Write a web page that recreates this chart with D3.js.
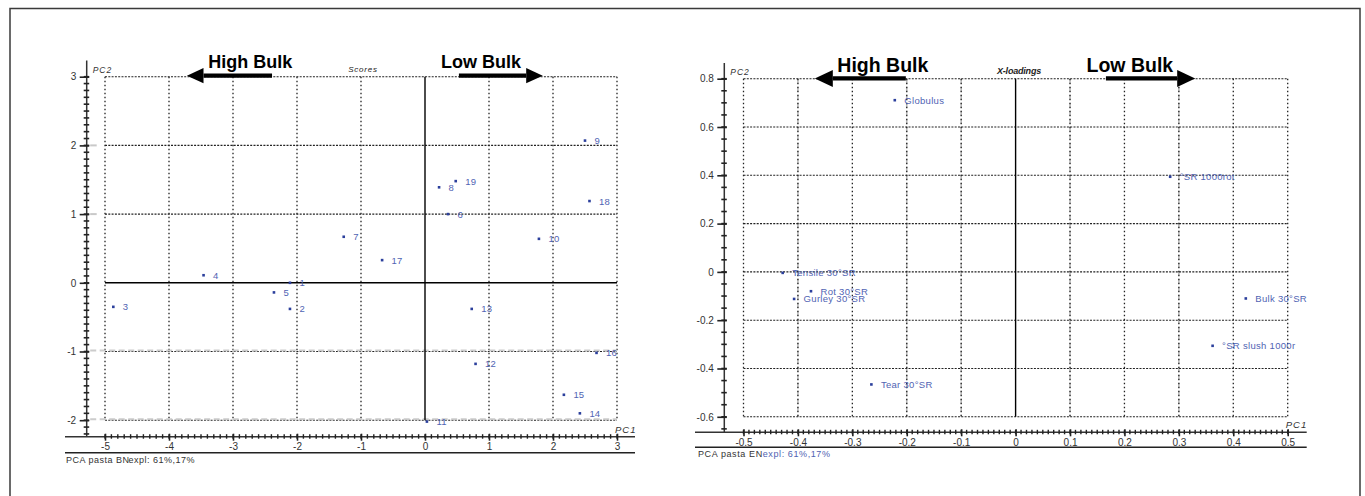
<!DOCTYPE html>
<html>
<head>
<meta charset="utf-8">
<script src="https://cdn.jsdelivr.net/npm/d3@7"></script>
<style>
  html, body { margin: 0; padding: 0; background: #fff; }
  svg { display: block; }
  text { font-family: "Liberation Sans", Arial, sans-serif; }
</style>
</head>
<body>
<svg id="chart" width="1365" height="496"></svg>
<script>
// ---------- DATA ----------
// Scores plot (left)
const scoreLabels = ["1","2","3","4","5","6","7","8","9","10","11","12","13","14","15","16","17","18","19"];
const scorePC1 = [-2.11,-2.11,-4.87,-3.46,-2.36,0.36,-1.27,0.22,2.50,1.78,0.03,0.79,0.73,2.42,2.17,2.68,-0.67,2.57,0.48];
const scorePC2 = [0.00,-0.38,-0.35,0.11,-0.14,1.00,0.67,1.39,2.07,0.64,-2.02,-1.18,-0.38,-1.90,-1.63,-1.02,0.33,1.19,1.48];
const scoreXTicks = [-5,-4,-3,-2,-1,0,1,2,3];
const scoreYTicks = [-2,-1,0,1,2,3];

// X-loadings plot (right)
const loadLabels = ["Globulus","Tensile 30°SR","Rot 30°SR","Gurley 30°SR","Tear 30°SR","°SR 1000rot","Bulk 30°SR","°SR slush 1000r"];
const loadPC1 = [-0.222,-0.428,-0.376,-0.407,-0.265,0.284,0.423,0.362];
const loadPC2 = [0.711,-0.004,-0.080,-0.112,-0.466,0.394,-0.110,-0.306];
const loadXTicks = [-0.5,-0.4,-0.3,-0.2,-0.1,0,0.1,0.2,0.3,0.4,0.5];
const loadYTicks = [-0.6,-0.4,-0.2,0,0.2,0.4,0.6,0.8];

// Annotations (data units on PC1)
const scoreArrowLabels = ["High Bulk","Low Bulk"];
const scoreArrowFrom = [-2.39, 0.53];
const scoreArrowTo = [-3.72, 1.84];
const scoreArrowText = [-2.73, 0.875];
const loadArrowLabels = ["High Bulk","Low Bulk"];
const loadArrowFrom = [-0.2017, 0.166];
const loadArrowTo = [-0.369, 0.33];
const loadArrowText = [-0.244, 0.21];

// ---------- DRAW ----------
const svg = d3.select("#chart");
const fmt = d => d === 0 ? "0" : (Number.isInteger(d) ? String(d) : d.toFixed(1)).replace("\u2212","-");

// outer frame
svg.append("rect").attr("x",10).attr("y",8.5).attr("width",1350).attr("height",500)
  .attr("fill","none").attr("stroke","#3a3a3a").attr("stroke-width",1.5);

function panel(cfg) {
  const g = svg.append("g");
  const x = d3.scaleLinear().domain(cfg.xDom).range([cfg.x0, cfg.x1]);
  const y = d3.scaleLinear().domain(cfg.yDom).range([cfg.yBot, cfg.yTop]);

  // vertical grid
  if (cfg.greyV) cfg.greyV.forEach(v => {
    g.append("line").attr("x1", x(v)).attr("x2", x(v))
      .attr("y1", y(cfg.yDom[1])).attr("y2", y(cfg.yDom[0]))
      .attr("stroke","#bdbdbd").attr("stroke-width",1.6).attr("stroke-dasharray","5,3");
  });
  cfg.xTicks.forEach(v => {
    if (v === 0) return;
    g.append("line").attr("x1", x(v)).attr("x2", x(v))
      .attr("y1", y(cfg.yDom[1])).attr("y2", y(cfg.yDom[0]))
      .attr("stroke","#222").attr("stroke-width",1.3).attr("stroke-dasharray","1.6,2.4");
  });
  // horizontal grid
  cfg.yTicks.forEach(v => {
    if (v === 0 && cfg.solidY0) return;
    g.append("line").attr("x1", x(cfg.xDom[0])).attr("x2", x(cfg.xDom[1]))
      .attr("y1", y(v)).attr("y2", y(v))
      .attr("stroke","#222").attr("stroke-width",1.1).attr("stroke-dasharray","2,1.3");
  });
  // light grey dashed overlays
  if (cfg.greyH) cfg.greyH.forEach(v => {
    g.append("line").attr("x1", cfg.axisX + 3.5).attr("x2", x(cfg.xDom[1]))
      .attr("y1", y(v) - 1).attr("y2", y(v) - 1)
      .attr("stroke","#c4c4c4").attr("stroke-width",2).attr("stroke-dasharray","6,3.5").attr("opacity",0.85);
  });
  if (cfg.greyStub) cfg.greyStub.forEach(v => {
    g.append("line").attr("x1", cfg.axisX + 3.5).attr("x2", cfg.axisX + 10)
      .attr("y1", y(v)).attr("y2", y(v))
      .attr("stroke","#c9c9c9").attr("stroke-width",2);
  });
  // solid zero lines
  g.append("line").attr("x1", x(0)).attr("x2", x(0))
    .attr("y1", y(cfg.yDom[1])).attr("y2", y(cfg.yDom[0]))
    .attr("stroke","#000").attr("stroke-width",1.4);
  if (cfg.solidY0) g.append("line").attr("x1", x(cfg.xDom[0])).attr("x2", x(cfg.xDom[1]))
    .attr("y1", y(0)).attr("y2", y(0)).attr("stroke","#000").attr("stroke-width",1.4);

  // axis lines
  g.append("line").attr("x1", cfg.axisX).attr("x2", cfg.axisX)
    .attr("y1", cfg.axisTop).attr("y2", cfg.axisY).attr("stroke","#333").attr("stroke-width",1.5);
  g.append("line").attr("x1", cfg.lineLeft).attr("x2", cfg.lineRight)
    .attr("y1", cfg.axisY).attr("y2", cfg.axisY).attr("stroke","#333").attr("stroke-width",1.5);
  g.append("line").attr("x1", cfg.lineLeft).attr("x2", cfg.lineRight)
    .attr("y1", cfg.line2Y).attr("y2", cfg.line2Y).attr("stroke","#222").attr("stroke-width",1.5);

  // minor ticks
  d3.range(cfg.yMinor[0], cfg.yMinor[1] + cfg.yMinor[2]/2, cfg.yMinor[2]).forEach(v => {
    g.append("line").attr("x1", cfg.axisX - 3).attr("x2", cfg.axisX + 2.5)
      .attr("y1", y(v)).attr("y2", y(v)).attr("stroke","#222").attr("stroke-width",1.6);
  });
  d3.range(cfg.xMinor[0], cfg.xMinor[1] + cfg.xMinor[2]/2, cfg.xMinor[2]).forEach(v => {
    g.append("line").attr("x1", x(v)).attr("x2", x(v))
      .attr("y1", cfg.axisY - 2.5).attr("y2", cfg.axisY + 2).attr("stroke","#222").attr("stroke-width",1.4);
  });

  // axes with labels
  const ya = g.append("g").attr("transform",`translate(${cfg.axisX},0)`)
    .call(d3.axisLeft(y).tickValues(cfg.yTicks).tickSize(7).tickPadding(3.5).tickFormat(fmt));
  ya.select(".domain").remove();
  ya.selectAll(".tick line").attr("stroke","#222").attr("stroke-width",1.6).attr("x2", 2.5).attr("x1",-7);
  ya.selectAll("text").attr("font-size",10).attr("fill","#333").attr("font-family","Liberation Sans, Arial");

  const xa = g.append("g").attr("transform",`translate(0,${cfg.axisY})`)
    .call(d3.axisBottom(x).tickValues(cfg.xTicks).tickSize(4).tickPadding(cfg.xPad).tickFormat(fmt));
  xa.select(".domain").remove();
  xa.selectAll(".tick line").attr("stroke","#222").attr("stroke-width",1.6).attr("y1",-3);
  xa.selectAll("text").attr("font-size",10).attr("fill","#333").attr("font-family","Liberation Sans, Arial");

  // axis titles
  g.append("text").attr("x", cfg.axisX + 6).attr("y", y(cfg.yDom[1]) - 4)
    .attr("font-size",8.5).attr("font-style","italic").attr("letter-spacing",1).attr("fill","#333").text("PC2");
  g.append("text").attr("x", x(cfg.xDom[1]) - 2).attr("y", cfg.axisY - 4)
    .attr("font-size",9.5).attr("font-style","italic").attr("letter-spacing",1).attr("fill","#333").text("PC1");

  // plot title
  g.append("text").attr("x", cfg.titleX).attr("y", y(cfg.yDom[1]) - 4.5).attr("text-anchor","middle")
    .attr("font-size", cfg.titleSize).attr("font-style","italic").attr("font-weight", cfg.titleWeight)
    .attr("letter-spacing", cfg.titleSpacing).attr("fill","#222").text(cfg.title);

  // points
  const idx = d3.range(cfg.labels.length);
  g.selectAll("rect.pt").data(idx).enter().append("rect").attr("class","pt")
    .attr("x", i => x(cfg.px[i]) - 1.3).attr("y", i => y(cfg.py[i]) - 1.3)
    .attr("width",2.6).attr("height",2.6).attr("fill","#2b3f9c");
  g.selectAll("text.lbl").data(idx).enter().append("text").attr("class","lbl")
    .attr("x", i => x(cfg.px[i]) + 9.5).attr("y", i => y(cfg.py[i]) + 3.5)
    .attr("font-size", cfg.lblSize).attr("letter-spacing", cfg.lblSpacing).attr("fill","#5063b3")
    .text(i => cfg.labels[i]);

  // arrows
  cfg.arrows.labels.forEach((lab, i) => {
    const ay = y(cfg.yDom[1]) + cfg.arrowDy;
    const x1 = x(cfg.arrows.from[i]), x2 = x(cfg.arrows.to[i]);
    const dir = Math.sign(x2 - x1);
    const base = x2 - dir * cfg.headLen;
    g.append("line").attr("x1", x1).attr("x2", base).attr("y1", ay).attr("y2", ay)
      .attr("stroke","#000").attr("stroke-width",4.2);
    g.append("path").attr("d", `M${x2},${ay} L${base},${ay - cfg.headHalf} L${base},${ay + cfg.headHalf} Z`)
      .attr("fill","#000");
    g.append("text").attr("x", x(cfg.arrows.text[i])).attr("y", ay + cfg.textDy)
      .attr("text-anchor","middle").attr("font-weight","bold").attr("font-size", cfg.arrowFont)
      .attr("fill","#000").text(lab);
  });

  return {x, y, g};
}

// Left panel: Scores
const left = panel({
  xDom: [-5, 3], yDom: [-2, 3], x0: 105, x1: 617, yTop: 76.7, yBot: 420.2,
  axisX: 86.7, axisTop: 60.5, axisY: 436.7, lineLeft: 65, lineRight: 635, line2Y: 452.7,
  xTicks: scoreXTicks, yTicks: scoreYTicks, solidY0: true,
  yMinor: [-2.2, 3.0, 0.1], xMinor: [-5, 3, 0.1], xPad: 2.5,
  greyH: [-1, -2], greyStub: [1, 2],
  title: "Scores", titleX: 363, titleSize: 8, titleWeight: "normal", titleSpacing: 0.8,
  labels: scoreLabels, px: scorePC1, py: scorePC2, lblSize: 9.5, lblSpacing: 0.2,
  arrows: {labels: scoreArrowLabels, from: scoreArrowFrom, to: scoreArrowTo, text: scoreArrowText},
  arrowDy: -1, textDy: -7.4, headLen: 16.6, headHalf: 7.6, arrowFont: 18
});

// Right panel: X-loadings
const right = panel({
  xDom: [-0.5, 0.5], yDom: [-0.6, 0.8], x0: 743.5, x1: 1287.7, yTop: 78.7, yBot: 416.8,
  axisX: 724.3, axisTop: 63, axisY: 432.3, lineLeft: 695, lineRight: 1306.7, line2Y: 447.3,
  xTicks: loadXTicks, yTicks: loadYTicks, solidY0: false,
  yMinor: [-0.65, 0.8, 0.05], xMinor: [-0.5, 0.5, 0.01], xPad: 2.4,
  greyV: [-0.4, -0.2, -0.1, 0.1, 0.3],
  title: "X-loadings", titleX: 1019, titleSize: 9, titleWeight: "bold", titleSpacing: -0.2,
  labels: loadLabels, px: loadPC1, py: loadPC2, lblSize: 9.5, lblSpacing: 0.3,
  arrows: {labels: loadArrowLabels, from: loadArrowFrom, to: loadArrowTo, text: loadArrowText},
  arrowDy: -0.3, textDy: -6.6, headLen: 18, headHalf: 8.5, arrowFont: 19.5
});

// footers (single text elements with tspans)
const f1 = svg.append("text").attr("x",66).attr("y",463).attr("font-size",9).attr("letter-spacing",0.5).attr("fill","#333");
f1.append("tspan").text("PCA pasta BN");
f1.append("tspan").attr("dx",-1).text("expl: 61%,17%");
const f2 = svg.append("text").attr("x",698).attr("y",456.5).attr("font-size",9).attr("letter-spacing",0.6).attr("fill","#333");
f2.append("tspan").text("PCA pasta EN");
f2.append("tspan").attr("fill","#4f62b2").text("expl: 61%,17%");
</script>
</body>
</html>
